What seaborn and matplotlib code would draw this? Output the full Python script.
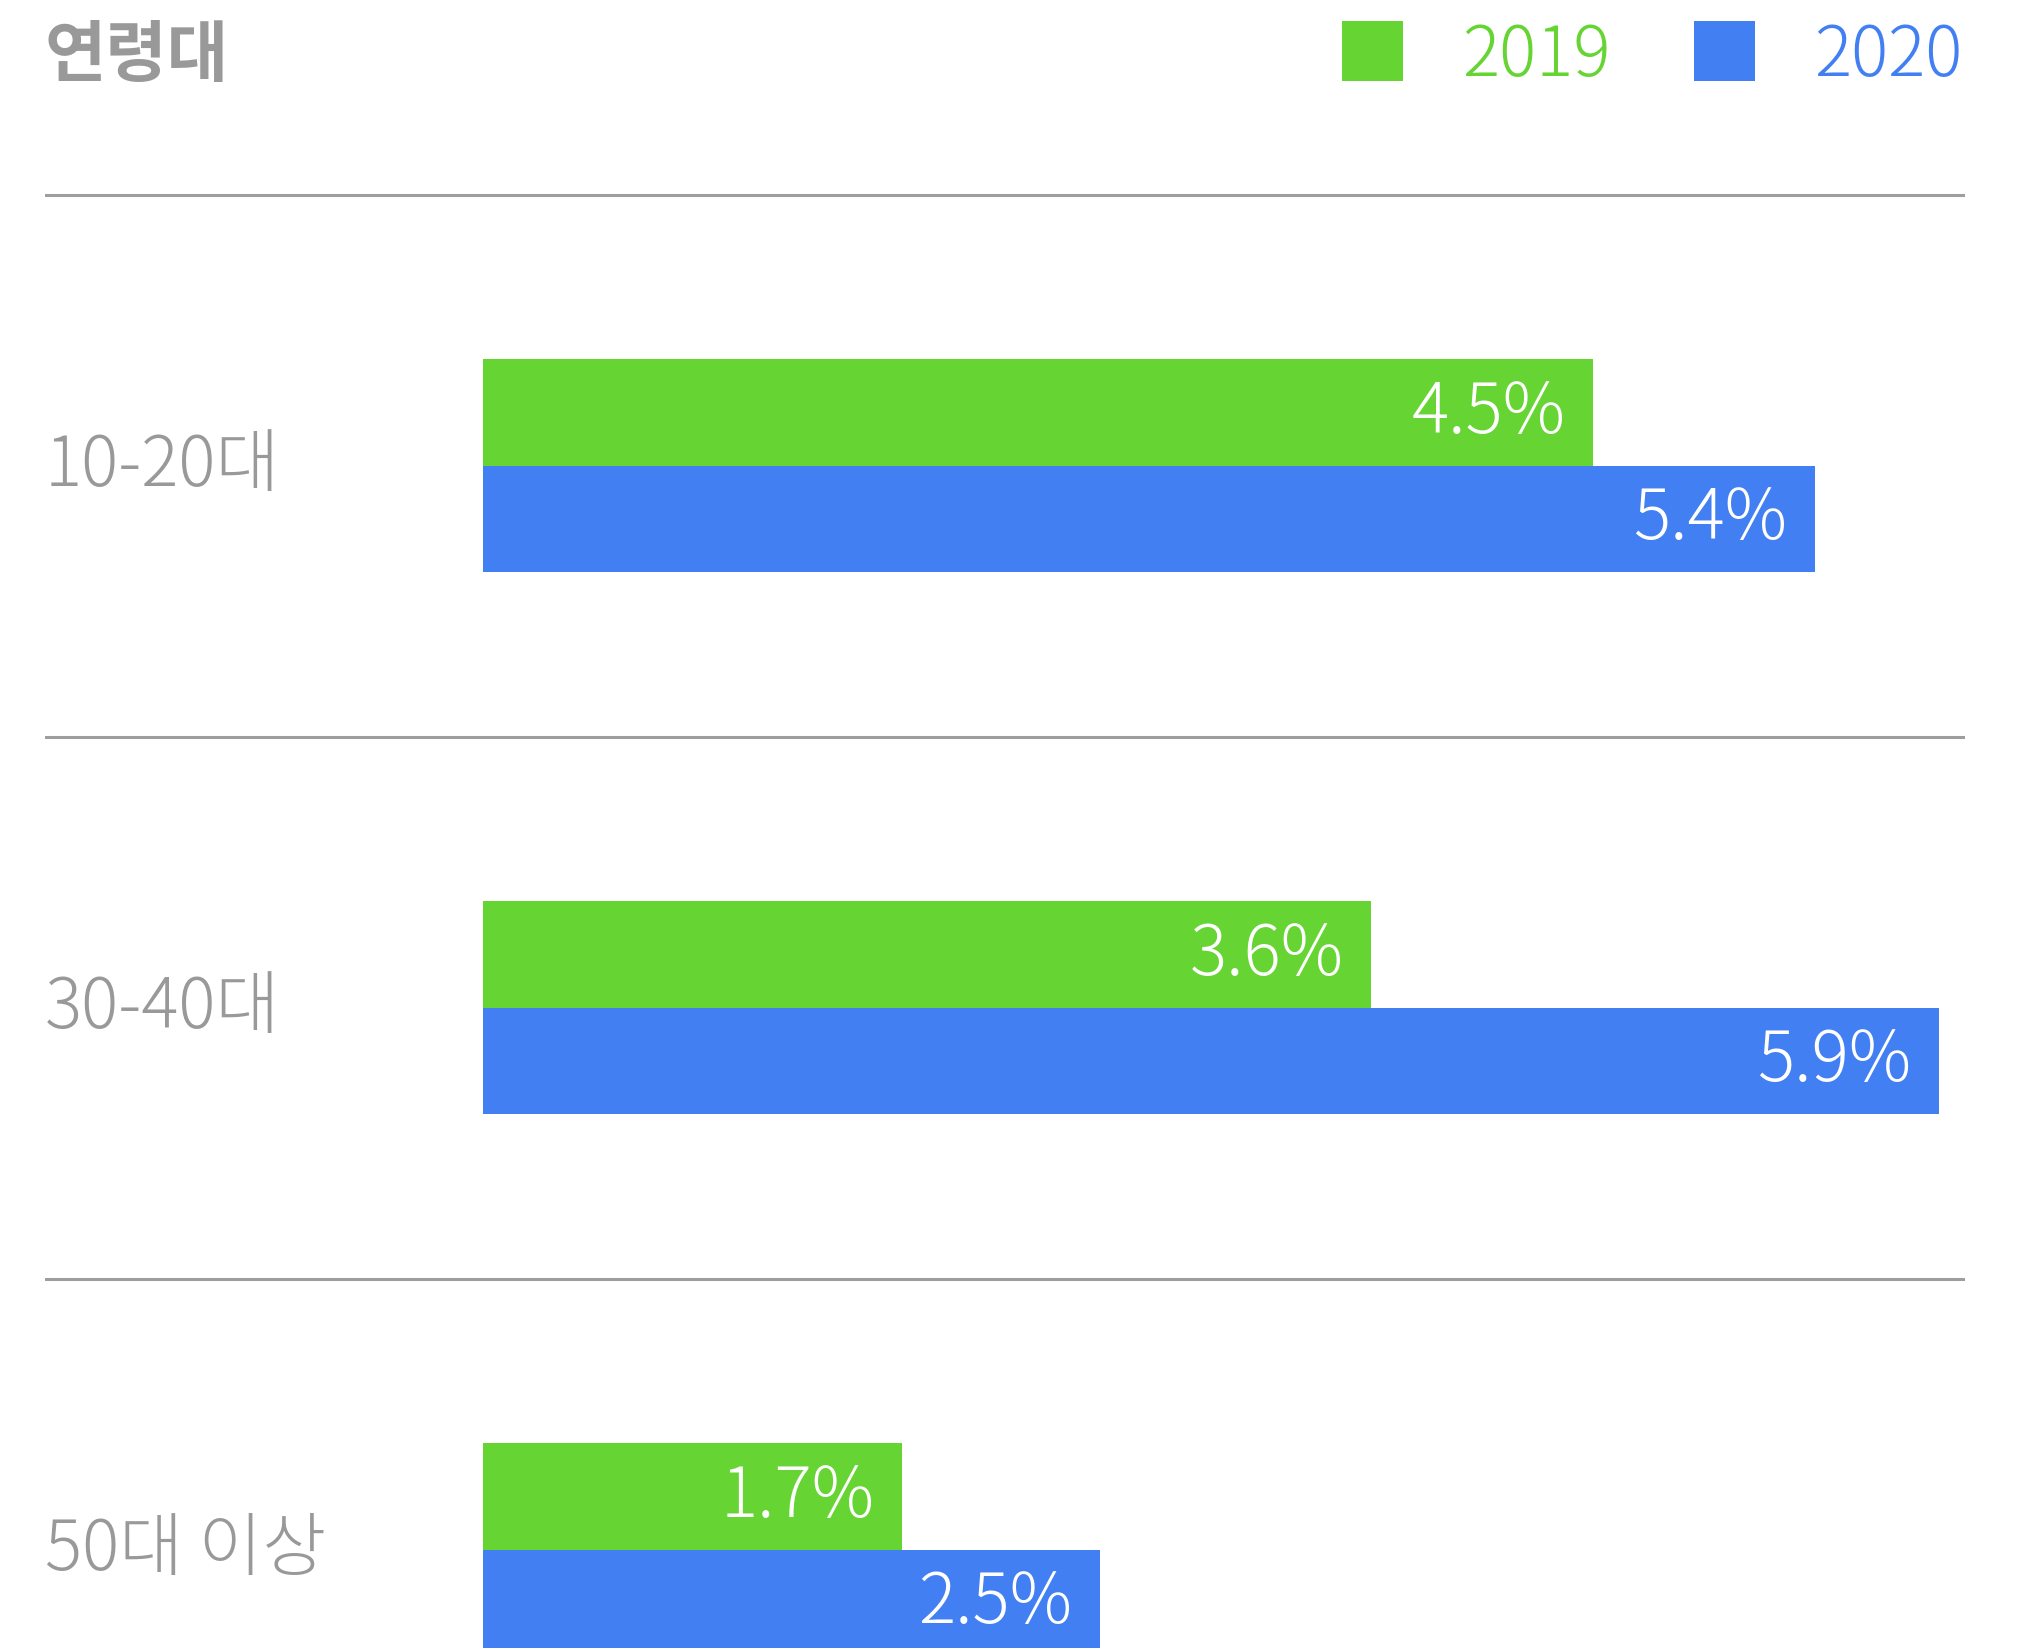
import matplotlib
matplotlib.use("Agg")
import matplotlib.pyplot as plt
import matplotlib.transforms as mtransforms
import pandas as pd
import seaborn as sns

# Chart data
age_groups = ["10-20대", "30-40대", "50대 이상"]
years = ["2019", "2020"]
share_2019 = [4.5, 3.6, 1.7]
share_2020 = [5.4, 5.9, 2.5]

title_text = "연령대"
green = "#66D433"
blue = "#427FF3"
gray_text = "#999999"
gray_line = "#9E9E9E"

sns.set_theme(style="white")
# The JP face of Noto Sans CJK carries Hangul too and ships a Light weight
light_family = ["Noto Sans CJK JP", "Noto Sans CJK KR", "DejaVu Sans"]
plt.rcParams["font.family"] = light_family

df = pd.DataFrame({
    "group": age_groups * 2,
    "year": [years[0]] * len(age_groups) + [years[1]] * len(age_groups),
    "value": share_2019 + share_2020,
})

W, H = 2018, 1649
fig = plt.figure(figsize=(W / 100, H / 100), dpi=100)
fig.patch.set_facecolor("white")

# Axes spans the separator lines horizontally and the full height
ax = fig.add_axes([45 / W, 0, 1920 / W, 1])
ax.set_facecolor("white")

sns.barplot(
    data=df, y="group", x="value", hue="year", order=age_groups,
    hue_order=years, palette=[green, blue], orient="h", width=0.394,
    dodge=True, saturation=1, linewidth=0, edgecolor="none", ax=ax,
)

px_per_unit = 246.7
ax.set_xlim(-(483 - 45) / px_per_unit, (1965 - 483) / px_per_unit)
ax.set_ylim((H - 466.7) / 542, -466.7 / 542)

for s in ax.spines.values():
    s.set_visible(False)
ax.set_xticks([])
ax.set_yticks([])
ax.set_xlabel("")
ax.set_ylabel("")

# Separators between age groups
for y in [-0.5, 0.5, 1.5]:
    ax.axhline(y, color=gray_line, lw=2.2, zorder=0)

label_size = 50

# Age group labels at the left edge
blend = mtransforms.blended_transform_factory(ax.transAxes, ax.transData)
for i, g in enumerate(age_groups):
    ax.text(0, i, g, transform=blend, ha="left", va="center",
            fontsize=label_size, color=gray_text, fontweight=300)

# Value labels inside the bar ends
offset = 0.394 / 4
for i in range(len(age_groups)):
    for vals, dy in ((share_2019, -offset), (share_2020, offset)):
        ax.annotate(f"{vals[i]}%", xy=(vals[i], i + dy), xytext=(-20, 0),
                    textcoords="offset points", ha="right", va="center",
                    fontsize=label_size, color="white", fontweight=300)

fig.text(45 / W, 1 - 57 / H, title_text, ha="left", va="center",
         fontsize=48, fontweight="bold", color=gray_text)

sns.move_legend(
    ax, "center right", bbox_to_anchor=(1962 / W, 1 - 57 / H),
    bbox_transform=fig.transFigure, ncol=2, frameon=False, title=None,
    fontsize=label_size, handlelength=0.88, handleheight=0.95,
    handletextpad=0.85, columnspacing=1.2, borderpad=0, borderaxespad=0,
)
leg = ax.get_legend()
for txt, c in zip(leg.get_texts(), [green, blue]):
    txt.set_color(c)
    txt.set_fontweight(300)

fig.savefig("out.png", dpi=100, facecolor="white")
